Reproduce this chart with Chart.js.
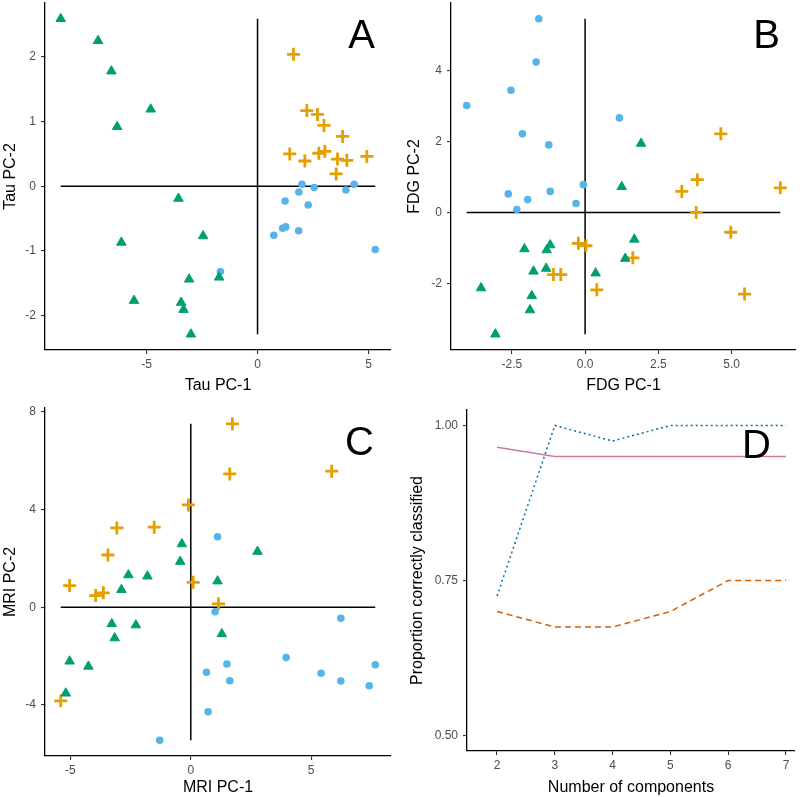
<!DOCTYPE html>
<html>
<head>
<meta charset="utf-8">
<script src="https://cdn.jsdelivr.net/npm/chart.js@4.4.1/dist/chart.umd.min.js"></script>
<style>
    body { margin: 0; background: #fff; }
    #wrap { position: relative; width: 800px; height: 797px; }
    canvas { position: absolute; }
</style>
</head>
<body>
<div id="wrap">
    <canvas id="chartA" width="400" height="400" style="left:0;top:0"></canvas>
    <canvas id="chartB" width="400" height="400" style="left:400px;top:0"></canvas>
    <canvas id="chartC" width="400" height="397" style="left:0;top:400px"></canvas>
    <canvas id="chartD" width="400" height="397" style="left:400px;top:400px"></canvas>
</div>
<script>
// Panel A - Tau PCA
var tauTriX = [-8.86, -7.18, -6.58, -4.81, -6.32, -3.56, -6.13, -2.45, -3.08, -5.56, -3.44, -3.33, -3.00, -1.73];
var tauTriY = [2.59, 2.25, 1.78, 1.19, 0.92, -0.19, -0.87, -0.77, -1.44, -1.77, -1.80, -1.91, -2.29, -1.41];
var tauDotX = [-1.67, 2.00, 2.55, 4.35, 3.98, 1.86, 1.24, 2.28, 1.13, 1.27, 0.73, 1.85, 5.30];
var tauDotY = [-1.32, 0.03, -0.02, 0.03, -0.06, -0.09, -0.23, -0.29, -0.65, -0.63, -0.76, -0.69, -0.98];
var tauPlusX = [1.62, 2.22, 2.70, 2.99, 3.83, 1.45, 2.13, 2.76, 3.03, 3.60, 4.02, 4.92, 3.54];
var tauPlusY = [2.04, 1.17, 1.11, 0.94, 0.77, 0.50, 0.39, 0.51, 0.54, 0.42, 0.40, 0.46, 0.19];

// Panel B - FDG PCA
var fdgTriX = [1.91, 1.25, -2.07, -1.19, -1.31, -1.76, -1.33, -3.55, -1.82, -1.88, -3.06, 1.68, 1.37, 0.36];
var fdgTriY = [1.94, 0.72, -1.03, -0.92, -1.06, -1.66, -1.58, -2.13, -2.35, -2.75, -3.43, -0.76, -1.30, -1.71];
var fdgDotX = [-1.58, -1.67, -2.53, -4.04, -2.14, -1.24, -0.06, -2.62, -1.19, -1.96, -2.33, -0.31, 1.17];
var fdgDotY = [5.45, 4.23, 3.44, 3.01, 2.21, 1.90, 0.78, 0.52, 0.59, 0.36, 0.08, 0.25, 2.66];
var fdgPlusX = [4.63, 3.83, 3.30, 6.66, 3.79, 4.97, 1.63, 0.40, 5.44, 0.03, -0.23, -1.08, -0.83];
var fdgPlusY = [2.21, 0.92, 0.59, 0.69, 0.00, -0.56, -1.28, -2.18, -2.30, -0.94, -0.87, -1.75, -1.75];

// Panel C - MRI PCA
var mriTriX = [-0.37, -0.44, -2.59, -1.80, -2.88, -3.28, -2.28, -3.16, -5.03, -4.25, -5.19, 2.77, 1.11, 1.29];
var mriTriY = [2.59, 1.87, 1.32, 1.27, 0.72, -0.68, -0.73, -1.26, -2.21, -2.42, -3.52, 2.28, 1.07, -1.09];
var mriDotX = [1.11, 1.01, 6.23, 3.96, 1.50, 0.65, 1.62, 5.41, 6.23, 7.41, 7.66, 0.72, -1.29];
var mriDotY = [2.89, -0.18, -0.45, -2.06, -2.32, -2.66, -3.01, -2.70, -3.02, -3.21, -2.35, -4.28, -5.44];
var mriPlusX = [-0.10, -3.07, -1.52, -3.44, -5.03, 0.10, -3.95, -3.63, -5.40, 1.73, 1.62, 5.85, 1.15];
var mriPlusY = [4.19, 3.25, 3.28, 2.14, 0.89, 1.02, 0.48, 0.59, -3.83, 7.51, 5.46, 5.57, 0.14];

// Panel D - classification accuracy
var nComponents = [2, 3, 4, 5, 6, 7];
var propSolid = [0.965, 0.95, 0.95, 0.95, 0.95, 0.95];
var propDotted = [0.725, 1.0, 0.975, 1.0, 1.0, 1.0];
var propDashed = [0.70, 0.675, 0.675, 0.70, 0.75, 0.75];

// tick labels
var tauXTicks = [-5, 0, 5];
var tauYTicks = [-2, -1, 0, 1, 2];
var fdgXTicks = [-2.5, 0, 2.5, 5];
var fdgYTicks = [-2, 0, 2, 4];
var mriXTicks = [-5, 0, 5];
var mriYTicks = [-4, 0, 4, 8];
var compXTicks = [2, 3, 4, 5, 6, 7];
var propYTicks = [0.5, 0.75, 1.0];

let fontFamily = "'Liberation Sans', Arial, Helvetica, sans-serif";
let green = '#009E73', blue = '#56B4E9', orange = '#E69F00';

let panelLetter = {
    id: 'panelLetter',
    afterDraw: function (chart, args, opts) {
        let ctx = chart.ctx;
        ctx.save();
        ctx.font = '40px ' + fontFamily;
        ctx.fillStyle = '#000';
        ctx.textAlign = 'right';
        ctx.textBaseline = 'alphabetic';
        ctx.fillText(opts.text, opts.x, opts.y);
        ctx.restore();
    }
};

let axis = function (min, max, tickVals, fmt, title, fitSize, horizontal, titlePad) {
    return {
        type: 'linear',
        min: min,
        max: max,
        afterBuildTicks: function (scale) {
            scale.ticks = tickVals.map(function (v) { return { value: v }; });
        },
        afterFit: function (scale) {
            // keep the plot box where the layout padding puts it
            if (horizontal) {
                scale.height = fitSize;
                scale.paddingLeft = 0;
                scale.paddingRight = 0;
            } else {
                scale.width = fitSize;
                scale.paddingTop = 0;
                scale.paddingBottom = 0;
            }
        },
        grid: { drawOnChartArea: false, drawTicks: true, tickLength: 4, color: '#333', lineWidth: 1.1 },
        border: { display: true, color: '#000', width: 1.3 },
        ticks: {
            color: '#4d4d4d',
            padding: horizontal ? 3 : 5,
            font: { family: fontFamily, size: 12 },
            callback: function (v) { return fmt(v); }
        },
        title: {
            display: true,
            text: title,
            color: '#000',
            font: { family: fontFamily, size: 16 },
            padding: titlePad
        }
    };
};

let points = function (xs, ys) {
    return xs.map(function (x, i) { return { x: x, y: ys[i] }; });
};

let expand = function (vals) {
    let lo = Math.min.apply(null, vals), hi = Math.max.apply(null, vals);
    let pad = (hi - lo) * 0.05;
    return [lo - pad, hi + pad, lo, hi];
};

let setupScatter = function (id, groups, cfg) {
    let allX = groups.tri[0].concat(groups.dot[0], groups.plus[0]);
    let allY = groups.tri[1].concat(groups.dot[1], groups.plus[1]);
    let ex = expand(allX), ey = expand(allY);
    let plain = function (v) { return String(v); };

    let lineStyle = {
        showLine: true, borderColor: '#000', borderWidth: 1.5,
        pointRadius: 0, order: 10
    };

    return new Chart(document.getElementById(id), {
        type: 'scatter',
        data: {
            datasets: [
                Object.assign({ data: [{ x: ex[2], y: 0 }, { x: ex[3], y: 0 }] }, lineStyle),
                Object.assign({ data: [{ x: 0, y: ey[2] }, { x: 0, y: ey[3] }] }, lineStyle),
                {
                    data: points(groups.tri[0], groups.tri[1]),
                    pointStyle: 'triangle', pointRadius: 5.5,
                    backgroundColor: green, borderColor: green, borderWidth: 1, order: 1
                },
                {
                    data: points(groups.dot[0], groups.dot[1]),
                    pointStyle: 'circle', pointRadius: 3.8,
                    backgroundColor: blue, borderColor: blue, borderWidth: 0, order: 1
                },
                {
                    data: points(groups.plus[0], groups.plus[1]),
                    pointStyle: 'cross', pointRadius: 6.5,
                    backgroundColor: orange, borderColor: orange, borderWidth: 2.8, order: 1
                }
            ]
        },
        options: {
            responsive: false,
            animation: false,
            layout: { padding: cfg.padding, autoPadding: false },
            plugins: {
                legend: { display: false },
                tooltip: { enabled: false },
                panelLetter: cfg.letter
            },
            scales: {
                x: axis(ex[0], ex[1], cfg.xTicks, cfg.xFmt || plain, cfg.xTitle, cfg.xFit, true, { bottom: cfg.xTitlePad }),
                y: axis(ey[0], ey[1], cfg.yTicks, plain, cfg.yTitle, cfg.yFit, false, { top: cfg.yTitlePad })
            }
        },
        plugins: [panelLetter]
    });
};

setupScatter('chartA', {
    tri: [tauTriX, tauTriY], dot: [tauDotX, tauDotY], plus: [tauPlusX, tauPlusY]
}, {
    padding: { top: 3, right: 9, left: 0, bottom: 0 },
    xTicks: tauXTicks, yTicks: tauYTicks,
    xTitle: 'Tau PC-1', yTitle: 'Tau PC-2',
    xFit: 50, yFit: 45, xTitlePad: 5, yTitlePad: 1,
    letter: { text: 'A', x: 375, y: 48 }
});

setupScatter('chartB', {
    tri: [fdgTriX, fdgTriY], dot: [fdgDotX, fdgDotY], plus: [fdgPlusX, fdgPlusY]
}, {
    padding: { top: 3, right: 4, left: 0, bottom: 0 },
    xTicks: fdgXTicks, yTicks: fdgYTicks,
    xFmt: function (v) { return v.toFixed(1); },
    xTitle: 'FDG PC-1', yTitle: 'FDG PC-2',
    xFit: 50, yFit: 51, xTitlePad: 5, yTitlePad: 5,
    letter: { text: 'B', x: 380, y: 48 }
});

setupScatter('chartC', {
    tri: [mriTriX, mriTriY], dot: [mriDotX, mriDotY], plus: [mriPlusX, mriPlusY]
}, {
    padding: { top: 8, right: 9, left: 0, bottom: 0 },
    xTicks: mriXTicks, yTicks: mriYTicks,
    xTitle: 'MRI PC-1', yTitle: 'MRI PC-2',
    xFit: 41, yFit: 45, xTitlePad: 0, yTitlePad: 1,
    letter: { text: 'C', x: 374, y: 55 }
});

// Panel D
let lineSet = function (vals, color, dash) {
    return {
        data: points(nComponents, vals),
        borderColor: color, borderWidth: 1.5, borderDash: dash,
        pointRadius: 0, fill: false, tension: 0
    };
};

new Chart(document.getElementById('chartD'), {
    type: 'line',
    data: {
        datasets: [
            lineSet(propSolid, '#CC79A7', []),
            lineSet(propDotted, '#0072B2', [2, 3]),
            lineSet(propDashed, '#D55E00', [6, 4])
        ]
    },
    options: {
        responsive: false,
        animation: false,
        layout: { padding: { top: 10, right: 5, left: 0, bottom: 0 }, autoPadding: false },
        plugins: {
            legend: { display: false },
            tooltip: { enabled: false },
            panelLetter: { text: 'D', x: 371, y: 58 }
        },
        scales: {
            x: axis(1.48, 7.156, compXTicks, function (v) { return String(v); }, 'Number of components', 46, true, { bottom: 0 }),
            y: axis(0.475, 1.025, propYTicks, function (v) { return v.toFixed(2); }, 'Proportion correctly classified', 67, false, { top: 8 })
        }
    },
    plugins: [panelLetter]
});
</script>
</body>
</html>
